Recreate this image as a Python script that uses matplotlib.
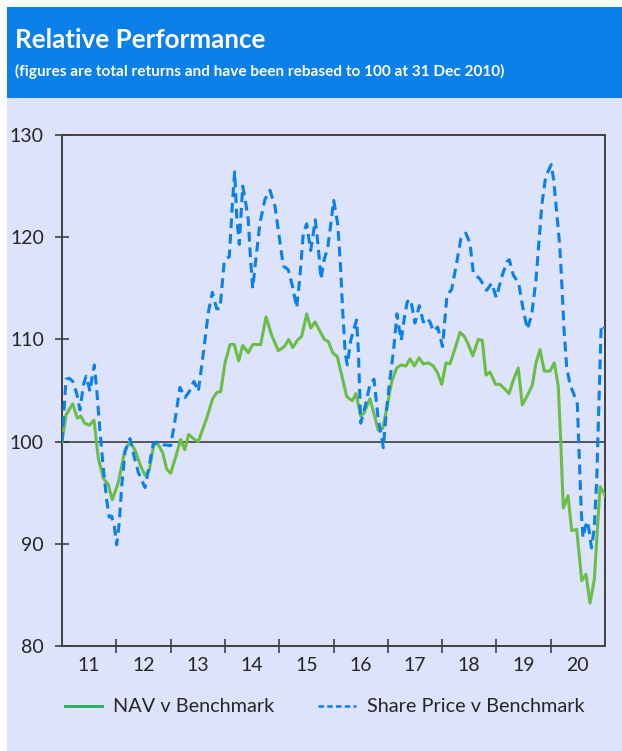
import matplotlib
matplotlib.use("Agg")
import matplotlib.pyplot as plt
from matplotlib.lines import Line2D
from matplotlib.patches import Rectangle

plt.rcParams['font.family'] = ['Lato', 'DejaVu Sans']

# ---- data (years since 31 Dec 2010, relative performance rebased to 100) ----
nav_t = [0.000, 0.074, 0.197, 0.282, 0.344, 0.418, 0.503, 0.589, 0.668, 0.761,
         0.853, 0.926, 1.037, 1.160, 1.252, 1.350, 1.449, 1.529, 1.608, 1.694,
         1.773, 1.855, 1.928, 2.002, 2.099, 2.186, 2.260, 2.333, 2.418, 2.510,
         2.665, 2.775, 2.849, 2.923, 3.002, 3.094, 3.173, 3.254, 3.328, 3.431,
         3.512, 3.659, 3.757, 3.862, 3.983, 4.094, 4.175, 4.249, 4.333, 4.414,
         4.506, 4.580, 4.659, 4.751, 4.831, 4.904, 4.985, 5.070, 5.151, 5.243,
         5.346, 5.414, 5.501, 5.562, 5.672, 5.746, 5.825, 5.906, 5.980, 6.072,
         6.164, 6.243, 6.335, 6.409, 6.488, 6.575, 6.654, 6.746, 6.838, 6.919,
         6.993, 7.072, 7.145, 7.238, 7.330, 7.409, 7.483, 7.564, 7.667, 7.740,
         7.808, 7.882, 7.987, 8.066, 8.145, 8.232, 8.311, 8.403, 8.477, 8.569,
         8.661, 8.729, 8.803, 8.882, 8.987, 9.066, 9.140, 9.184, 9.232, 9.319,
         9.387, 9.479, 9.571, 9.650, 9.724, 9.803, 9.908, 10.000]
nav_v = [100.0, 102.6, 103.7, 102.3, 102.5, 101.8, 101.6, 102.1, 98.4, 96.4,
         95.8, 94.3, 96.0, 99.2, 100.0, 99.1, 97.6, 96.7, 97.2, 99.8,
         99.7, 98.9, 97.3, 96.9, 98.6, 100.2, 99.2, 100.7, 100.3, 100.0,
         102.3, 104.2, 104.8, 104.9, 107.7, 109.5, 109.5, 107.9, 109.4, 108.7,
         109.5, 109.5, 112.2, 110.4, 108.9, 109.3, 110.0, 109.2, 109.9, 110.3,
         112.5, 111.1, 111.7, 110.8, 110.0, 109.8, 108.7, 108.3, 106.5, 104.4,
         104.0, 104.7, 102.5, 102.8, 104.2, 102.7, 101.1, 101.3, 103.2, 105.9,
         107.2, 107.5, 107.4, 108.1, 107.4, 108.2, 107.6, 107.7, 107.4, 106.7,
         105.6, 107.7, 107.6, 109.1, 110.7, 110.3, 109.5, 108.4, 110.0, 109.9,
         106.5, 106.8, 105.6, 105.6, 105.2, 104.7, 106.0, 107.2, 103.6, 104.5,
         105.5, 107.7, 109.0, 106.9, 106.9, 107.7, 105.4, 100.1, 93.5, 94.7,
         91.3, 91.4, 86.4, 87.0, 84.2, 86.5, 95.6, 94.7]

sp_t = [0.000, 0.074, 0.134, 0.197, 0.271, 0.331, 0.392, 0.442, 0.484, 0.516,
        0.558, 0.595, 0.639, 0.700, 0.761, 0.823, 0.871, 0.915, 0.963, 1.007,
        1.055, 1.099, 1.160, 1.252, 1.326, 1.405, 1.529, 1.608, 1.681, 1.773,
        1.866, 2.002, 2.081, 2.173, 2.265, 2.344, 2.431, 2.510, 2.602, 2.694,
        2.768, 2.849, 2.910, 2.989, 3.081, 3.144, 3.180, 3.217, 3.265, 3.291,
        3.328, 3.376, 3.431, 3.462, 3.512, 3.573, 3.646, 3.738, 3.830, 3.923,
        4.002, 4.075, 4.168, 4.249, 4.322, 4.383, 4.444, 4.506, 4.580, 4.628,
        4.665, 4.720, 4.770, 4.831, 4.893, 5.004, 5.077, 5.125, 5.169, 5.217,
        5.254, 5.317, 5.377, 5.424, 5.457, 5.501, 5.580, 5.672, 5.746, 5.825,
        5.875, 5.917, 5.972, 6.040, 6.109, 6.169, 6.212, 6.248, 6.304, 6.359,
        6.422, 6.501, 6.580, 6.654, 6.716, 6.777, 6.838, 6.919, 7.007, 7.090,
        7.177, 7.262, 7.348, 7.436, 7.514, 7.575, 7.698, 7.821, 7.913, 7.998,
        8.103, 8.195, 8.237, 8.311, 8.411, 8.477, 8.569, 8.650, 8.729, 8.785,
        8.834, 8.895, 8.956, 9.011, 9.055, 9.103, 9.166, 9.208, 9.245, 9.294,
        9.355, 9.429, 9.490, 9.526, 9.563, 9.594, 9.640, 9.681, 9.718, 9.751,
        9.801, 9.847, 9.893, 9.930, 10.000]
sp_v = [100.0, 106.1, 106.2, 105.9, 104.7, 103.1, 105.5, 106.4, 105.6, 104.9,
        106.4, 107.5, 105.1, 101.0, 97.4, 94.3, 92.6, 92.7, 91.7, 89.9,
        92.1, 95.6, 99.0, 100.3, 98.6, 97.0, 95.5, 97.7, 99.8, 100.0,
        99.7, 99.6, 102.1, 105.3, 104.3, 104.9, 105.9, 104.9, 108.6, 112.6,
        114.6, 113.0, 113.0, 117.7, 118.1, 123.8, 126.4, 122.1, 119.3, 121.6,
        125.0, 123.6, 121.7, 118.7, 115.0, 118.0, 121.4, 123.7, 124.6, 123.0,
        120.0, 117.2, 116.8, 115.1, 113.1, 116.2, 120.4, 121.3, 118.7, 120.4,
        121.7, 119.0, 115.9, 117.9, 118.9, 123.6, 121.3, 117.6, 112.8, 108.6,
        107.5, 109.9, 111.0, 111.9, 109.0, 101.8, 103.4, 105.6, 106.1, 102.1,
        100.8, 99.4, 102.9, 106.1, 109.1, 112.5, 111.0, 109.9, 112.1, 113.7,
        113.9, 111.6, 113.3, 111.7, 112.1, 111.7, 110.8, 111.2, 109.3, 114.3,
        114.9, 117.3, 119.9, 120.4, 119.4, 116.5, 115.9, 114.8, 115.5, 114.1,
        116.2, 117.6, 117.8, 116.3, 115.5, 113.4, 111.0, 112.4, 115.8, 119.7,
        123.0, 125.5, 126.5, 127.1, 125.6, 122.8, 119.2, 115.1, 111.0, 107.3,
        105.6, 104.6, 103.7, 98.4, 93.2, 90.6, 91.7, 92.2, 90.9, 89.6,
        91.5, 96.2, 104.7, 111.4, 111.1]

year_labels = ["11", "12", "13", "14", "15", "16", "17", "18", "19", "20"]
y_ticks = [80, 90, 100, 110, 120, 130]

title = "Relative Performance"
subtitle = "(figures are total returns and have been rebased to 100 at 31 Dec 2010)"
nav_label = "NAV v Benchmark"
sp_label = "Share Price v Benchmark"

# ---- styling ----
PANEL = "#DCE3FA"
BAND = "#0A80E8"
GREEN = "#6BBE45"
BLUE = "#0A80EC"
FRAME = "#404040"
TEXT = "#262626"

W, H = 622, 751
fig = plt.figure(figsize=(W / 100, H / 100), dpi=100, facecolor="white")

# panel and header band
fig.patches.append(Rectangle((7 / W, 0), 1 - 7 / W, 1 - 7 / H, transform=fig.transFigure,
                             facecolor=PANEL, edgecolor="none", zorder=-10))
fig.patches.append(Rectangle((7 / W, 1 - 98 / H), 1 - 7 / W, 91 / H, transform=fig.transFigure,
                             facecolor=BAND, edgecolor="none", zorder=-9))
fig.text(15 / W, 1 - 40 / H, title, color="white", fontsize=18.7, fontweight="bold",
         va="center", ha="left")
fig.text(15 / W, 1 - 71 / H, subtitle, color="white", fontsize=11.1, fontweight="bold",
         va="center", ha="left")

ax = fig.add_axes([62 / W, 1 - 646 / H, (605 - 62) / W, (646 - 135) / H])
ax.set_facecolor(PANEL)
ax.set_xlim(0, 10)
ax.set_ylim(80, 130)

ax.axhline(100, color="#303030", lw=1.1, zorder=2)
ax.plot(nav_t, nav_v, color=GREEN, lw=2.2, zorder=3, solid_joinstyle="round")
ax.plot(sp_t, sp_v, color=BLUE, lw=2.2, linestyle=(0, (3.2, 1.9)), zorder=4,
        dash_capstyle="butt")

for s in ax.spines.values():
    s.set_color(FRAME)
    s.set_linewidth(1.4)

ax.set_yticks(y_ticks)
ax.set_yticklabels([str(v) for v in y_ticks])
ax.set_xticks(range(1, 10))
ax.set_xticklabels([])
ax.set_xticks([i + 0.5 for i in range(10)], minor=True)
ax.set_xticklabels(year_labels, minor=True)
ax.tick_params(axis="both", which="major", direction="inout", length=10, width=1.2,
               color=FRAME, labelsize=14, labelcolor=TEXT)
ax.tick_params(axis="y", pad=8)
ax.tick_params(axis="x", which="minor", length=0, pad=8, labelsize=14, labelcolor=TEXT)

handles = [Line2D([], [], color="#1DB050", lw=2.0),
           Line2D([], [], color=BLUE, lw=1.8, linestyle=(0, (2.2, 1.3)))]
fig.legend(handles, [nav_label, sp_label], loc="center", bbox_to_anchor=(0.522, 1 - 707 / H),
           ncol=2, frameon=False, fontsize=14.3, handlelength=1.9, handletextpad=0.55,
           columnspacing=2.2, labelcolor=TEXT)

fig.savefig("out.png", dpi=100, facecolor="white")
